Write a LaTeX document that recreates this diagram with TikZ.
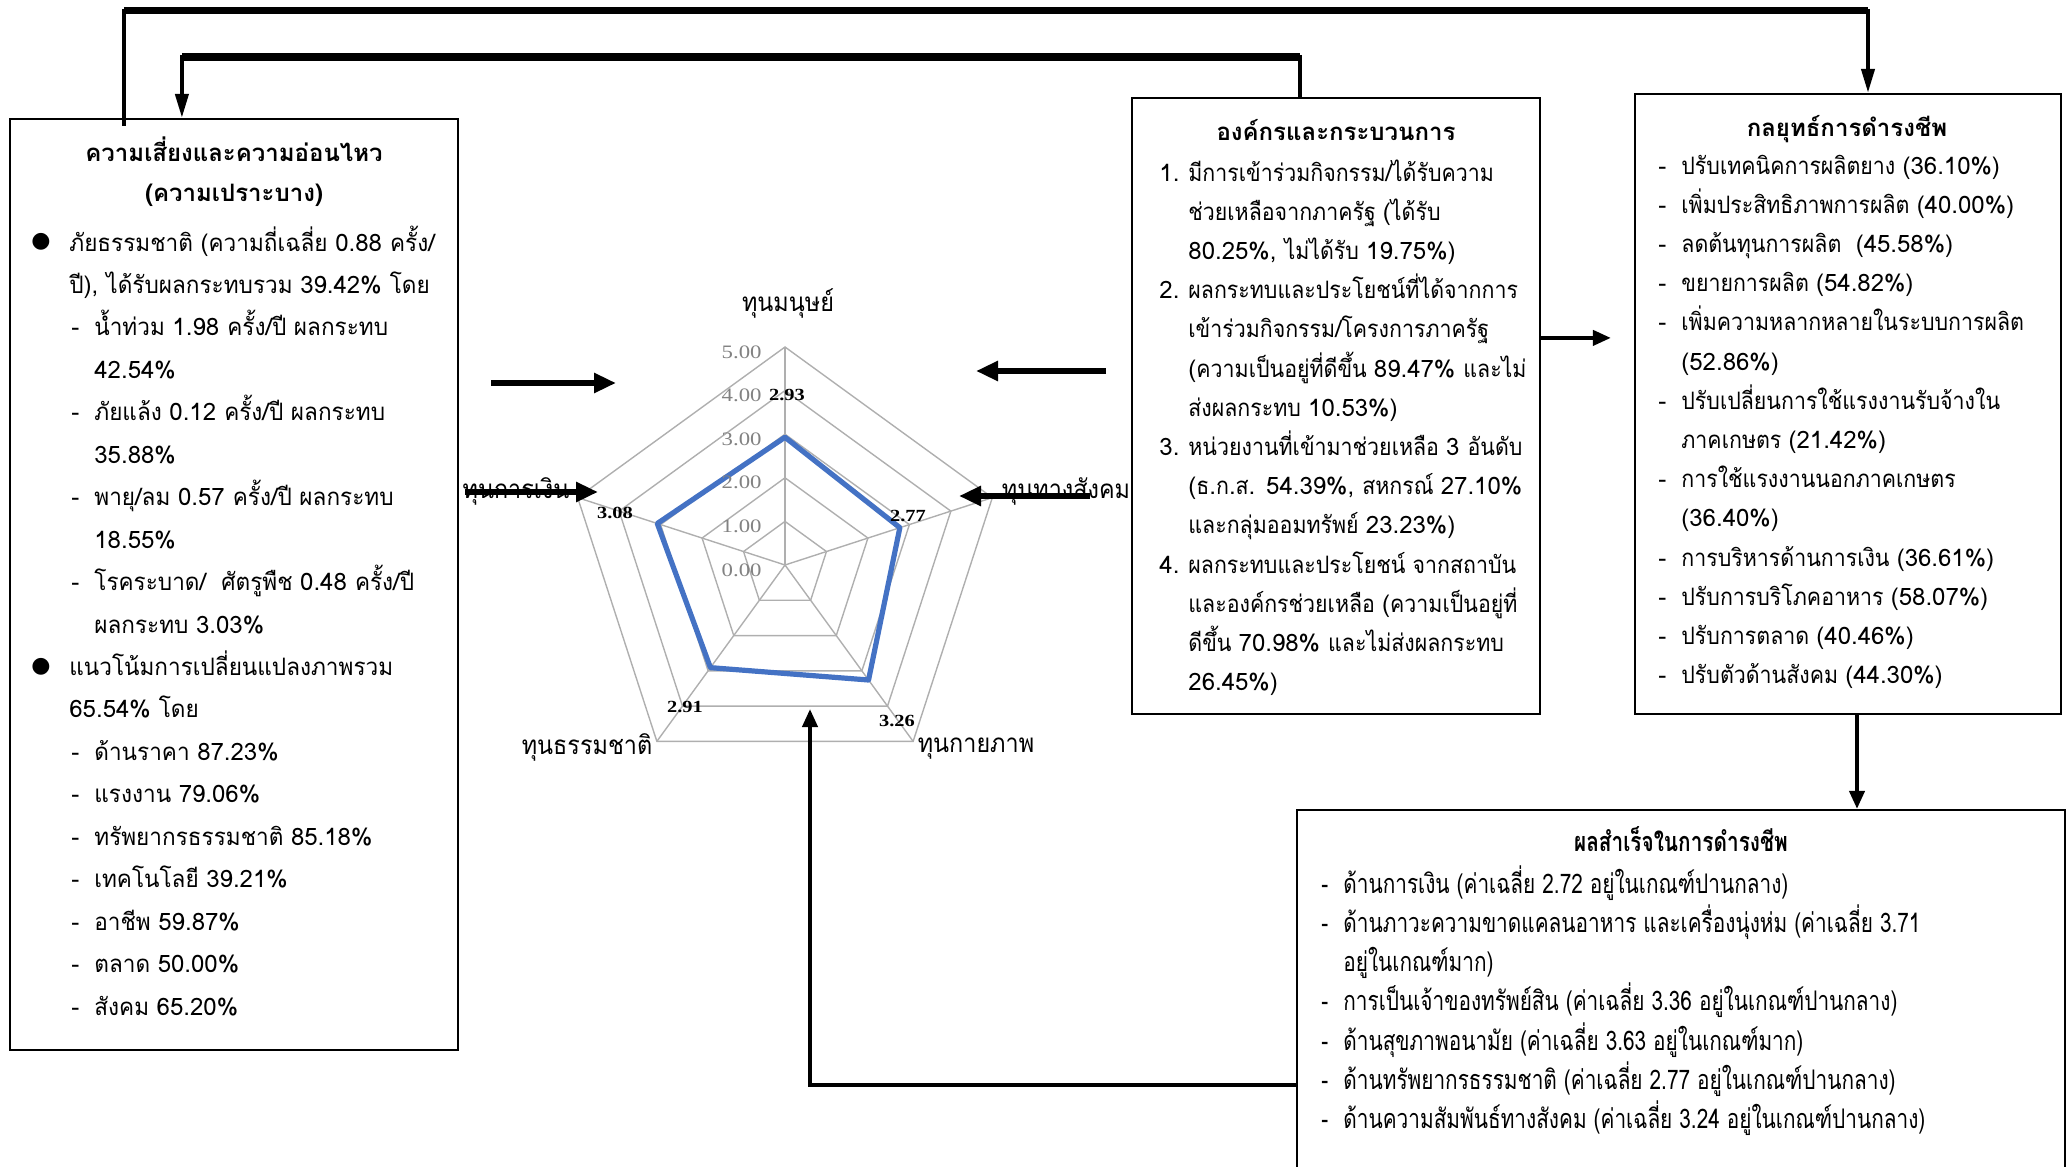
\documentclass[tikz,border=0pt]{standalone}
\usepackage{fontspec}
\setmainfont[Script=Thai]{Loma}
% Thai letters set a little narrower than the Latin digits beside them
\newfontfamily\thaiwide[Script=Thai]{Loma}
\newfontfamily\thaiA[Script=Thai,FakeStretch=0.94]{Loma}
\newfontfamily\thaiB[Script=Thai,FakeStretch=0.89]{Loma}
\newfontfamily\thaicond[Script=Thai,FakeStretch=0.77]{Loma}
\newfontfamily\thaiaxis[Script=Thai,FakeStretch=0.9]{Loma}
\newfontfamily\numwide[FakeStretch=1.2]{Liberation Serif}
\newfontfamily\dotfont{DejaVu Sans}
\let\thaibody\thaiA
\newXeTeXintercharclass\latincls
\XeTeXcharclass`0=\latincls \XeTeXcharclass`1=\latincls
\XeTeXcharclass`2=\latincls \XeTeXcharclass`3=\latincls
\XeTeXcharclass`4=\latincls \XeTeXcharclass`5=\latincls
\XeTeXcharclass`6=\latincls \XeTeXcharclass`7=\latincls
\XeTeXcharclass`8=\latincls \XeTeXcharclass`9=\latincls
\XeTeXcharclass`.=\latincls \XeTeXcharclass`,=\latincls
\XeTeXcharclass`(=\latincls \XeTeXcharclass`)=\latincls
\XeTeXcharclass`\%=\latincls
\XeTeXinterchartoks 0 \latincls = {\thaiwide}
\XeTeXinterchartoks 4095 \latincls = {\thaiwide}
\XeTeXinterchartoks \latincls 0 = {\thaibody}
\XeTeXinterchartoks 4095 0 = {\thaibody}
\usetikzlibrary{arrows.meta,calc}
\definecolor{gridgray}{RGB}{175,175,175}
\definecolor{ticklbl}{RGB}{130,130,130}
\definecolor{seriesblue}{RGB}{68,114,196}
\begin{document}
\begin{tikzpicture}[x=0.5pt,y=-0.5pt,
  txtA/.style={inner sep=0pt, font={\let\thaibody\thaiA\XeTeXinterchartokenstate=1 \thaiA\fontsize{12}{14}\selectfont}},
  txtB/.style={inner sep=0pt, font={\let\thaibody\thaiB\XeTeXinterchartokenstate=1 \thaiB\fontsize{12}{14}\selectfont}},
  plain/.style={inner sep=0pt, font=\fontsize{12}{14}\selectfont},
  ttl/.style={inner sep=0pt, font=\bfseries\fontsize{12}{14}\selectfont},
  cnd/.style={inner sep=0pt, font=\thaicond\fontsize{13.5}{15}\selectfont},
  cndb/.style={inner sep=0pt, font=\thaicond\bfseries\fontsize{13.5}{15}\selectfont},
  box/.style={draw, line width=1.1pt, inner sep=0pt},
  conn/.style={line width=2pt},
  thickbar/.style={line width=3.6pt},
  longtip/.style={-{Triangle[length=12pt,width=6.5pt]}},
  bigarrow/.style={line width=3pt, -{Triangle[length=11pt,width=9.5pt]}},
  midarrow/.style={line width=2pt, -{Triangle[length=9pt,width=7.5pt]}},
  grid/.style={draw=gridgray, line width=0.7pt},
  series/.style={draw=seriesblue, line width=2.6pt, line join=round},
  tick/.style={inner sep=0pt, text=ticklbl, font=\numwide\fontsize{9.5}{11}\selectfont},
  val/.style={inner sep=0pt, font=\numwide\bfseries\fontsize{8.5}{10}\selectfont},
  axis/.style={inner sep=0pt, font=\thaiaxis\fontsize{13}{15}\selectfont}]

\path[use as bounding box] (0,0) rectangle (2069,1167);
\clip (0,0) rectangle (2069,1167);

% ---------- boxes ----------
\node[box, minimum width=224pt, minimum height=465.5pt] (L) at (234,584.5) {};
\node[box, minimum width=204pt, minimum height=308pt] (M) at (1336,406) {};
\node[box, minimum width=213pt, minimum height=310pt] (R) at (1848,404) {};
\node[box, minimum width=384pt, minimum height=185pt] (B) at (1681,995) {};

% ---------- left box: risk and vulnerability ----------
\node[ttl, anchor=base] (Lt1) at (234,161) {ความเสี่ยงและความอ่อนไหว};
\node[ttl, anchor=base] (Lt2) at (234,201) {(ความเปราะบาง)};
\foreach \xa/\ta [count=\i] in {
  69/{ภัยธรรมชาติ (ความถี่เฉลี่ย 0.88 ครั้ง/},
  69/{ปี), ได้รับผลกระทบรวม 39.42\% โดย},
  94/{น้ำท่วม 1.98 ครั้ง/ปี ผลกระทบ},
  94/{42.54\%},
  94/{ภัยแล้ง 0.12 ครั้ง/ปี ผลกระทบ},
  94/{35.88\%},
  94/{พายุ/ลม 0.57 ครั้ง/ปี ผลกระทบ},
  94/{18.55\%},
  94/{โรคระบาด/\ \ ศัตรูพืช 0.48 ครั้ง/ปี},
  94/{ผลกระทบ 3.03\%},
  69/{แนวโน้มการเปลี่ยนแปลงภาพรวม},
  69/{65.54\% โดย},
  94/{ด้านราคา 87.23\%},
  94/{แรงงาน 79.06\%},
  94/{ทรัพยากรธรรมชาติ 85.18\%},
  94/{เทคโนโลยี 39.21\%},
  94/{อาชีพ 59.87\%},
  94/{ตลาด 50.00\%},
  94/{สังคม 65.20\%}}
  \node[txtA, anchor=base west] (lt\i) at (\xa,{251+(\i-1)*42.45}) {\ta};
\foreach \i in {1,11}
  \node[inner sep=0pt, font=\dotfont\fontsize{11}{11}\selectfont] (lb\i) at (41,{242+(\i-1)*42.45}) {●};
\foreach \i in {3,5,7,9,13,14,15,16,17,18,19}
  \node[plain, anchor=base west] (ld\i) at (71,{251+(\i-1)*42.45}) {-};

% ---------- middle box: organisations and processes ----------
\node[ttl, anchor=base] (Mt) at (1336,140) {องค์กรและกระบวนการ};
\foreach \ta [count=\i] in {
  {มีการเข้าร่วมกิจกรรม/ได้รับความ},
  {ช่วยเหลือจากภาครัฐ (ได้รับ},
  {80.25\%, ไม่ได้รับ 19.75\%)},
  {ผลกระทบและประโยชน์ที่ได้จากการ},
  {เข้าร่วมกิจกรรม/โครงการภาครัฐ},
  {(ความเป็นอยู่ที่ดีขึ้น 89.47\% และไม่},
  {ส่งผลกระทบ 10.53\%)},
  {หน่วยงานที่เข้ามาช่วยเหลือ 3 อันดับ},
  {(ธ.ก.ส. 54.39\%, สหกรณ์ 27.10\%},
  {และกลุ่มออมทรัพย์ 23.23\%)},
  {ผลกระทบและประโยชน์ จากสถาบัน},
  {และองค์กรช่วยเหลือ (ความเป็นอยู่ที่},
  {ดีขึ้น 70.98\% และไม่ส่งผลกระทบ},
  {26.45\%)}}
  \node[txtB, anchor=base west] (mt\i) at (1188,{181+(\i-1)*39.2}) {\ta};
\foreach \n/\i in {1/1,2/4,3/8,4/11}
  \node[plain, anchor=base west] (mn\n) at (1159,{181+(\i-1)*39.2}) {\n.};

% ---------- right box: livelihood strategies ----------
\node[ttl, anchor=base] (Rt) at (1847,136) {กลยุทธ์การดำรงชีพ};
\foreach \ta [count=\i] in {
  {ปรับเทคนิคการผลิตยาง (36.10\%)},
  {เพิ่มประสิทธิภาพการผลิต (40.00\%)},
  {ลดต้นทุนการผลิต\ \ (45.58\%)},
  {ขยายการผลิต (54.82\%)},
  {เพิ่มความหลากหลายในระบบการผลิต},
  {(52.86\%)},
  {ปรับเปลี่ยนการใช้แรงงานรับจ้างใน},
  {ภาคเกษตร (21.42\%)},
  {การใช้แรงงานนอกภาคเกษตร},
  {(36.40\%)},
  {การบริหารด้านการเงิน (36.61\%)},
  {ปรับการบริโภคอาหาร (58.07\%)},
  {ปรับการตลาด (40.46\%)},
  {ปรับตัวด้านสังคม (44.30\%)}}
  \node[txtB, anchor=base west] (rt\i) at (1681,{174+(\i-1)*39.2}) {\ta};
\foreach \i in {1,2,3,4,5,7,9,11,12,13,14}
  \node[plain, anchor=base west] (rd\i) at (1658,{174+(\i-1)*39.2}) {-};

% ---------- bottom box: livelihood outcomes ----------
\node[cndb, anchor=base] (Bt) at (1681,851) {ผลสำเร็จในการดำรงชีพ};
\foreach \ta [count=\i] in {
  {ด้านการเงิน (ค่าเฉลี่ย 2.72 อยู่ในเกณฑ์ปานกลาง)},
  {ด้านภาวะความขาดแคลนอาหาร และเครื่องนุ่งห่ม (ค่าเฉลี่ย 3.71},
  {อยู่ในเกณฑ์มาก)},
  {การเป็นเจ้าของทรัพย์สิน (ค่าเฉลี่ย 3.36 อยู่ในเกณฑ์ปานกลาง)},
  {ด้านสุขภาพอนามัย (ค่าเฉลี่ย 3.63 อยู่ในเกณฑ์มาก)},
  {ด้านทรัพยากรธรรมชาติ (ค่าเฉลี่ย 2.77 อยู่ในเกณฑ์ปานกลาง)},
  {ด้านความสัมพันธ์ทางสังคม (ค่าเฉลี่ย 3.24 อยู่ในเกณฑ์ปานกลาง)}}
  \node[cnd, anchor=base west] (bt\i) at (1343,{893+(\i-1)*39.3}) {\ta};
\foreach \i in {1,2,4,5,6,7}
  \node[cnd, anchor=base west] (bd\i) at (1321,{893+(\i-1)*39.3}) {-};

% ---------- radar chart of the five capitals ----------
\begin{scope}[shift={(785,565)}, x=0.5pt, y=0.5pt]
  \foreach \k in {1,...,5}
    \draw[grid] (90:{\k*43.6}) -- (18:{\k*43.6}) -- (-54:{\k*43.6})
      -- (-126:{\k*43.6}) -- (162:{\k*43.6}) -- cycle;
  \foreach \a in {90,18,-54,-126,162}
    \draw[grid] (0,0) -- (\a:218);
  \draw[series] (90:{2.93*43.6}) -- (18:{2.77*43.6}) -- (-54:{3.26*43.6})
    -- (-126:{2.91*43.6}) -- (162:{3.08*43.6}) -- cycle;
  \foreach \k in {0,...,5}
    \node[tick, anchor=east] (tk\k) at (-23,{\k*43.6-5}) {\k.00};
\end{scope}
\node[axis] (capH) at (788,303) {ทุนมนุษย์};
\node[axis] (capF) at (516,491) {ทุนการเงิน};
\node[axis] (capS) at (1066,491) {ทุนทางสังคม};
\node[axis] (capN) at (587,747) {ทุนธรรมชาติ};
\node[axis] (capP) at (976,749) {ทุนกายภาพ};
\node[val] (vH) at (787,395) {2.93};
\node[val] (vF) at (615,513) {3.08};
\node[val] (vS) at (908,516) {2.77};
\node[val] (vP) at (897,721) {3.26};
\node[val] (vN) at (685,707) {2.91};

% ---------- connectors ----------
\coordinate (topline) at (0,10.5);
\coordinate (midline) at (0,57);
\coordinate (o1) at ($(L.north west)+(115,8)$);
\coordinate (o4) at ($(R.north)+(20,0)$);
\draw[conn, longtip] (o1) -- (o1 |- topline) -- (o4 |- topline) -- (o4);
\draw[thickbar] (o1 |- topline) -- (o4 |- topline);
\coordinate (i1) at ($(M.north)+(-36,0)$);
\coordinate (i4) at ($(L.north west)+(173,0)$);
\draw[conn, longtip] (i1) -- (i1 |- midline) -- (i4 |- midline) -- (i4);
\draw[thickbar] (i1 |- midline) -- (i4 |- midline);

\coordinate (a1s) at (491,383);  \coordinate (a1e) at (616,383);
\coordinate (a2s) at (1106,371); \coordinate (a2e) at (976,371);
\coordinate (a3s) at (465,492);  \coordinate (a3e) at (598,492);
\coordinate (a4s) at (1090,496); \coordinate (a4e) at (959,496);
\draw[bigarrow] (a1s) -- (a1e);
\draw[bigarrow] (a2s) -- (a2e);
\draw[bigarrow] (a3s) -- (a3e);
\draw[bigarrow] (a4s) -- (a4e);

\coordinate (radarS) at (810,709);
\draw[midarrow] ($(B.north west)+(0,276)$) -| (radarS);
\draw[midarrow] ($(M.north east)+(0,241)$) -- ($(R.north west)+(-23,245)$);
\draw[midarrow] ($(R.south)+(9,0)$) -- ($(B.north)+(176,0)$);
\end{tikzpicture}
\end{document}
